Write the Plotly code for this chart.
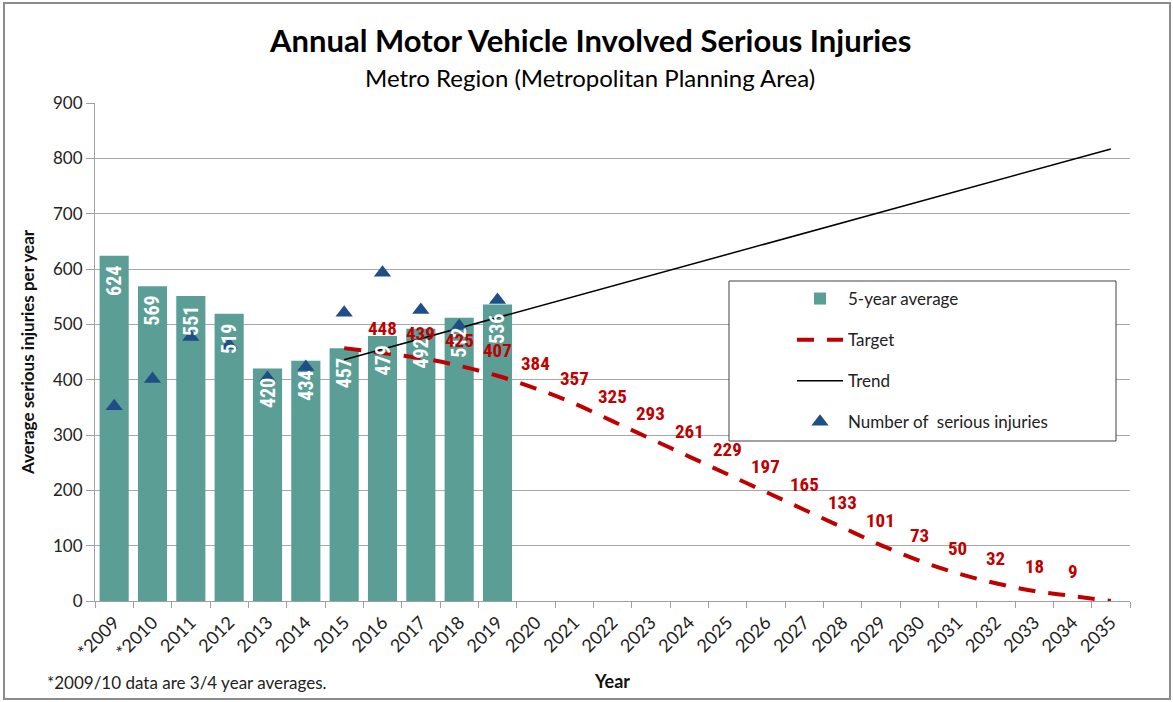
import plotly.graph_objects as go

years = ["*2009", "*2010", "2011", "2012", "2013", "2014", "2015", "2016", "2017",
         "2018", "2019", "2020", "2021", "2022", "2023", "2024", "2025", "2026",
         "2027", "2028", "2029", "2030", "2031", "2032", "2033", "2034", "2035"]

avg_years = years[:11]
avg_values = [624, 569, 551, 519, 420, 434, 457, 479, 492, 512, 536]

injury_years = years[:11]
injury_values = [352, 401, 477, 462, 403, 423, 521, 593, 526, 497, 544]

target_years = years[6:]
target_values = [457, 448, 439, 425, 407, 384, 357, 325, 293, 261, 229, 197,
                 165, 133, 101, 73, 50, 32, 18, 9, 0]
target_labels = ["", "448", "439", "425", "407", "384", "357", "325", "293", "261",
                 "229", "197", "165", "133", "101", "73", "50", "32", "18", "9", ""]

trend_years = ["2015", "2035"]
trend_values = [436, 817]

W, H = 1173, 702
L, R, T, B = 95, 1130, 103, 601


def px(x):
    return (x - L) / (R - L)


def py(y):
    return (B - y) / (B - T)


COND = "Liberation Sans Narrow, Roboto Condensed, Arial Narrow, Roboto, sans-serif"
CAL = "Lato, Carlito, Calibri, sans-serif"

fig = go.Figure()

fig.add_trace(go.Bar(
    x=avg_years, y=avg_values, name="5-year average", legendgroup="a",
    marker=dict(color="#5A9E96", line=dict(width=0)), width=0.76,
))

fig.add_trace(go.Scatter(
    x=target_years, y=target_values, name="Target", legendgroup="b",
    mode="lines", line=dict(color="#C00000", width=4, dash="17px,13px", shape="spline"),
))

fig.add_trace(go.Scatter(
    x=trend_years, y=trend_values, name="Trend", legendgroup="c",
    mode="lines", line=dict(color="black", width=1.5),
))

fig.add_trace(go.Scatter(
    x=injury_years, y=injury_values, name="Number of  serious injuries", legendgroup="d",
    mode="markers", marker=dict(symbol="triangle-up", size=15, color="#1F4E87"),
))

# bar value labels (drawn above the triangles, as in the original)
bar_label_annotations = [
    dict(x=years.index(xv), y=yv, xref="x", yref="y", text=str(yv), textangle=-90, showarrow=False,
         xanchor="center", yanchor="top", yshift=-8,
         font=dict(color="white", size=20, family=COND, weight="bold"))
    for xv, yv in zip(avg_years, avg_values)
]

# target value labels (drawn above the bar labels)
target_label_annotations = [
    dict(x=years.index(xv), y=yv, xref="x", yref="y", text=lab, showarrow=False,
         xanchor="center", yanchor="middle", yshift=25,
         font=dict(color="#C00000", size=19, family=COND, weight="bold"))
    for xv, yv, lab in zip(target_years, target_values, target_labels) if lab
]

fig.update_layout(
    width=W, height=H,
    margin=dict(l=L, r=W - R, t=T, b=H - B, autoexpand=False),
    paper_bgcolor="white", plot_bgcolor="white",
    font=dict(family=CAL, color="#222"),
    showlegend=True,
    legend=dict(x=px(792), y=py(281), xanchor="left", yanchor="top",
                bgcolor="rgba(0,0,0,0)", borderwidth=0,
                font=dict(size=17, family=CAL, color="#222"),
                itemwidth=46, tracegroupgap=16, traceorder="grouped"),
    xaxis=dict(type="category", categoryorder="array", categoryarray=years,
               range=[-0.5, len(years) - 0.5], tickangle=-45,
               tickfont=dict(size=18, family=CAL, color="#222"),
               showline=True, linecolor="#A0A0A0", linewidth=1,
               ticks="outside", tickson="boundaries", ticklen=6, tickcolor="#A0A0A0",
               ticklabelstandoff=3,
               showgrid=False,
               title=dict(text="<b>Year</b>", font=dict(size=18, family=CAL, color="#111"), standoff=14)),
    yaxis=dict(range=[0, 900], dtick=100, tickfont=dict(size=17, family=CAL, color="#222"),
               showline=True, linecolor="#A0A0A0", linewidth=1,
               ticks="outside", ticklen=8, tickcolor="#A0A0A0",
               gridcolor="#A8A8A8", gridwidth=1, zeroline=False,
               title=dict(text="<b>Average serious injuries per year</b>",
                          font=dict(size=17, family=CAL, color="#111"), standoff=14)),
    shapes=[
        dict(type="rect", xref="paper", yref="paper", x0=px(729), x1=px(1116), y0=py(441), y1=py(281),
             line=dict(color="#404040", width=1), fillcolor="white", layer="above"),
        dict(type="rect", xref="paper", yref="paper", x0=px(4), x1=px(1170), y0=py(699), y1=py(3),
             line=dict(color="#8C8C8C", width=2), layer="below"),
    ],
    annotations=bar_label_annotations + target_label_annotations + [
        dict(text="<b>Annual Motor Vehicle Involved Serious Injuries</b>", xref="paper", yref="paper",
             x=px(590), y=py(40), xanchor="center", yanchor="middle", showarrow=False,
             font=dict(size=31, family=CAL, color="black")),
        dict(text="Metro Region (Metropolitan Planning Area)", xref="paper", yref="paper",
             x=px(590), y=py(77), xanchor="center", yanchor="middle", showarrow=False,
             font=dict(size=24, family=CAL, color="black")),
        dict(text="*2009/10 data are 3/4 year averages.", xref="paper", yref="paper",
             x=px(45), y=py(682), xanchor="left", yanchor="middle", showarrow=False,
             font=dict(size=17, family=CAL, color="#222")),
    ],
)

fig.write_html("out.html", config={"displayModeBar": False},
               post_script="document.body.style.margin='0';document.body.style.overflow='hidden';")
